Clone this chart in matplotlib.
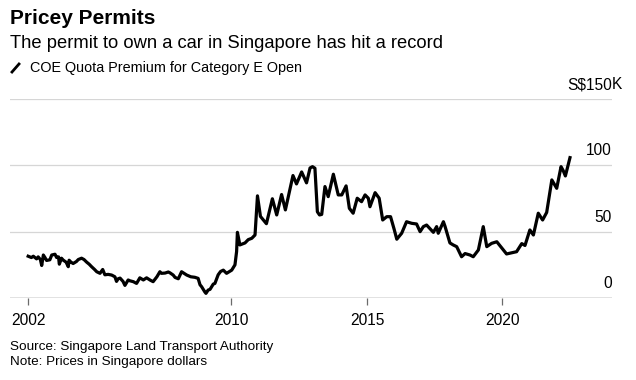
import matplotlib
matplotlib.use("Agg")
import matplotlib.pyplot as plt
from matplotlib.lines import Line2D
import matplotlib.transforms as mtransforms

plt.rcParams['font.family'] = ['Liberation Sans', 'DejaVu Sans']

# decimal year, premium in S$ thousands
years = [2002.50, 2002.62, 2002.69, 2002.81, 2002.87, 2002.95, 2003.00, 2003.06, 2003.12, 2003.18,
         2003.30, 2003.37, 2003.49, 2003.55, 2003.62, 2003.65, 2003.73, 2003.79, 2003.90, 2003.98,
         2004.01, 2004.08, 2004.16, 2004.28, 2004.35, 2004.41, 2004.47, 2004.56, 2004.66, 2004.75,
         2004.84, 2004.95, 2005.03, 2005.15, 2005.25, 2005.33, 2005.45, 2005.58, 2005.70, 2005.76,
         2005.82, 2005.89, 2006.00, 2006.07, 2006.19, 2006.25, 2006.38, 2006.50, 2006.62, 2006.75,
         2006.87, 2007.00, 2007.11, 2007.25, 2007.36, 2007.42, 2007.55, 2007.67, 2007.73, 2007.85,
         2007.92, 2008.04, 2008.16, 2008.22, 2008.35, 2008.50, 2008.65, 2008.77, 2008.84, 2008.90,
         2009.02, 2009.06, 2009.14, 2009.21, 2009.33, 2009.39, 2009.51, 2009.60, 2009.70, 2009.82,
         2010.01, 2010.13, 2010.19, 2010.22, 2010.31, 2010.50, 2010.62, 2010.75, 2010.87, 2010.96,
         2011.07, 2011.29, 2011.51, 2011.67, 2011.85, 2011.99, 2012.27, 2012.40, 2012.59, 2012.77,
         2012.90, 2012.99, 2013.08, 2013.17, 2013.25, 2013.33, 2013.45, 2013.57, 2013.76, 2013.94,
         2014.07, 2014.23, 2014.35, 2014.49, 2014.64, 2014.80, 2014.93, 2015.05, 2015.11, 2015.30,
         2015.45, 2015.58, 2015.73, 2015.87, 2016.00, 2016.10, 2016.28, 2016.46, 2016.65, 2016.83,
         2016.96, 2017.08, 2017.20, 2017.45, 2017.57, 2017.63, 2017.82, 2017.88, 2018.06, 2018.18,
         2018.31, 2018.49, 2018.62, 2018.80, 2018.92, 2019.11, 2019.29, 2019.42, 2019.60, 2019.79,
         2019.97, 2020.15, 2020.52, 2020.71, 2020.83, 2021.01, 2021.14, 2021.32, 2021.48, 2021.63,
         2021.82, 2022.00, 2022.16, 2022.24, 2022.32, 2022.49]
premium = [31.5, 30.5, 31.5, 29.5, 31.0, 29.0, 24.5, 32.4, 30.5, 28.3,
           28.8, 32.4, 33.0, 30.5, 31.0, 25.5, 30.0, 28.6, 27.0, 23.6,
           28.5, 27.0, 26.0, 27.5, 29.0, 29.5, 30.0, 29.0, 27.0, 25.5,
           23.6, 21.5, 19.8, 18.6, 21.5, 17.5, 17.8, 17.3, 16.0, 12.5,
           14.5, 15.0, 12.5, 9.5, 13.6, 13.0, 12.3, 11.0, 15.2, 13.6,
           15.2, 13.5, 12.3, 16.0, 19.8, 18.6, 18.8, 19.6, 19.0, 17.3,
           15.5, 14.5, 19.8, 19.0, 17.3, 16.0, 15.6, 14.8, 10.0, 8.5,
           4.5, 3.5, 6.0, 6.5, 10.5, 11.0, 17.5, 20.0, 21.0, 18.6,
           21.0, 25.0, 35.0, 49.5, 40.0, 41.5, 44.0, 45.0, 47.5, 77.0,
           61.5, 56.0, 74.8, 62.6, 78.0, 66.4, 92.3, 86.0, 95.0, 86.8,
           98.0, 99.0, 97.8, 65.0, 62.6, 63.0, 84.0, 76.4, 93.3, 77.7,
           77.7, 84.5, 67.6, 63.9, 75.2, 72.6, 77.7, 75.2, 68.8, 79.4,
           75.2, 58.8, 61.3, 61.3, 52.0, 44.3, 48.8, 57.5, 56.3, 55.8,
           50.0, 53.8, 55.0, 49.5, 53.8, 48.8, 57.5, 54.0, 41.5, 40.0,
           38.7, 31.1, 33.5, 32.4, 31.1, 36.2, 53.8, 38.7, 41.2, 42.4,
           37.8, 33.2, 34.9, 41.0, 39.6, 51.3, 47.5, 63.9, 58.8, 64.5,
           89.0, 82.7, 99.0, 96.0, 92.0, 105.8]

xtick_pos = [years[0], 2010, 2015, 2020]
xtick_labels = ['2002', '2010', '2015', '2020']
ytick_vals = [0, 50, 100, 150]
ytick_labels = ['0', '50', '100', 'S$150']

fig = plt.figure(figsize=(6.36, 3.8), dpi=100)
ax = fig.add_axes([10/636, 82/380, 602/636, 199/380])

ax.plot(years, premium, color='black', lw=2.3, solid_joinstyle='round', zorder=3)

ax.set_xlim(2001.83, 2024.04)
ax.set_ylim(0, 150)

for v in ytick_vals[1:]:
    ax.axhline(v, color='#d6d6d6', lw=0.9, zorder=1)
ax.axhline(0, color='#6b6b6b', lw=1.0, zorder=2)

for s in ax.spines.values():
    s.set_visible(False)

ax.set_yticks([])
ax.set_xticks(xtick_pos)
ax.set_xticklabels(xtick_labels, fontsize=11.2)
ax.tick_params(axis='x', length=5, width=0.9, color='#6b6b6b', pad=6)

trans = mtransforms.blended_transform_factory(ax.transAxes, ax.transData)
for v, lab in zip(ytick_vals, ytick_labels):
    ax.annotate(lab, xy=(1, v), xycoords=trans, xytext=(0, 5), textcoords='offset points',
                ha='right', va='bottom', fontsize=11.2)
# unit suffix hangs past the right edge
ax.annotate('K', xy=(1, ytick_vals[-1]), xycoords=trans, xytext=(0, 5), textcoords='offset points',
            ha='left', va='bottom', fontsize=11.2)

fig.text(10/636, 1 - 19/380, 'Pricey Permits', fontsize=15, fontweight='bold', va='center', ha='left')
fig.text(10/636, 1 - 43/380, 'The permit to own a car in Singapore has hit a record', fontsize=13.2,
         va='center', ha='left')
fig.add_artist(Line2D([12/636, 19/636], [1 - 72/380, 1 - 64/380], color='black', lw=2.0,
                      transform=fig.transFigure))
fig.text(30/636, 1 - 68/380, 'COE Quota Premium for Category E Open', fontsize=10.4,
         va='center', ha='left')

fig.text(10/636, 1 - 347/380, 'Source: Singapore Land Transport Authority', fontsize=9.7,
         va='center', ha='left')
fig.text(10/636, 1 - 362/380, 'Note: Prices in Singapore dollars', fontsize=9.7,
         va='center', ha='left')

fig.savefig('out.png', dpi=100, facecolor='white')
